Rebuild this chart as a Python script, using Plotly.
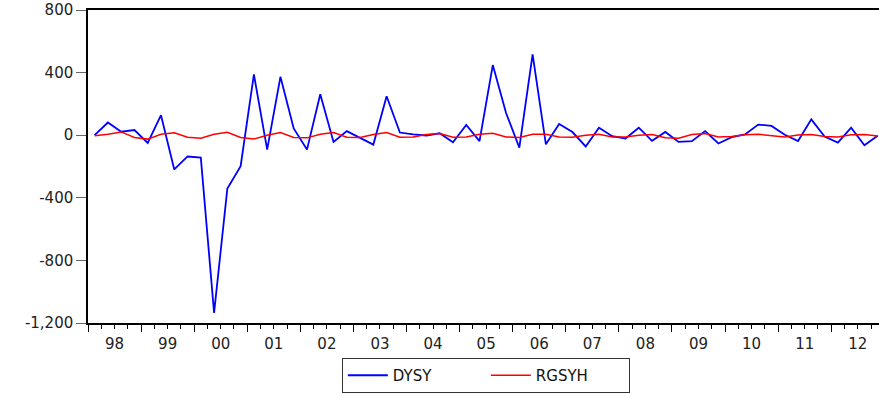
import plotly.graph_objects as go

# Quarterly series 1998Q1 .. 2012Q4
start_year = 1998
n_quarters = 60

dysy = [0, 81, 22, 33, -49, 128, -219, -136, -143, -1135,
        -341, -198, 388, -92, 373, 43, -92, 262, -43, 26,
        -17, -60, 249, 17, 5, -2, 12, -45, 65, -38,
        448, 142, -79, 517, -58, 71, 20, -72, 48, -6,
        -21, 48, -36, 21, -43, -38, 26, -53, -13, 5,
        68, 59, 3, -37, 101, -9, -47, 48, -64, -4]

rgsyh = [-4, 6, 21, -15, -25, 6, 15, -13, -19, 6,
         19, -15, -24, 0, 17, -14, -17, 6, 17, -13,
         -15, 4, 17, -13, -11, 4, 11, -13, -11, 6,
         12, -11, -15, 6, 6, -11, -13, 0, 6, -11,
         -12, -1, 5, -16, -19, 5, 11, -11, -8, 3,
         6, -4, -11, 1, 5, -8, -11, 3, 5, -5]

year_labels = ["98", "99", "00", "01", "02", "03", "04", "05",
               "06", "07", "08", "09", "10", "11", "12"]

y_tickvals = [800, 400, 0, -400, -800, -1200]
y_ticktext = ["800", "400", "0", "-400", "-800", "-1,200"]

# quarter midpoints in fractional years
x = [start_year + (i + 0.5) / 4 for i in range(n_quarters)]
year_bounds = [start_year + k for k in range(len(year_labels) + 1)]
year_centers = [start_year + k + 0.5 for k in range(len(year_labels))]

FONT = "DejaVu Sans"

fig = go.Figure()
fig.add_trace(go.Scatter(x=x, y=dysy, mode="lines", name="DYSY",
                         line=dict(color="#0000FF", width=1.8)))
fig.add_trace(go.Scatter(x=x, y=rgsyh, mode="lines", name="RGSYH",
                         line=dict(color="#FF0000", width=1.5)))
# invisible trace to carry the year labels axis
fig.add_trace(go.Scatter(x=[year_centers[0]], y=[0], xaxis="x2",
                         mode="markers", marker=dict(opacity=0),
                         showlegend=False, hoverinfo="skip"))

xr = [1998, 2012.9]

fig.update_layout(
    width=879, height=394,
    margin=dict(l=88, r=0, t=10, b=71, autoexpand=False),
    paper_bgcolor="white", plot_bgcolor="white",
    font=dict(family=FONT, size=15, color="#222222"),
    showlegend=True,
    legend=dict(orientation="h", x=0.503, xanchor="center",
                y=-0.2236, yanchor="bottom",
                bordercolor="#333333", borderwidth=1,
                font=dict(family=FONT, size=15, color="#111111"),
                entrywidth=88, entrywidthmode="pixels",
                itemwidth=40, tracegroupgap=0),
    xaxis=dict(range=xr, showgrid=False, zeroline=False, automargin=False,
               showline=True, linecolor="black", linewidth=1.5, mirror=True,
               tickmode="array", tickvals=year_bounds,
               ticktext=[""] * len(year_bounds),
               ticks="outside", ticklen=7, tickcolor="black", tickwidth=1,
               minor=dict(dtick=0.25, tick0=1998, ticks="outside",
                          ticklen=4, tickcolor="black", tickwidth=1,
                          showgrid=False)),
    xaxis2=dict(range=xr, overlaying="x", side="bottom", anchor="y",
                showgrid=False, zeroline=False, showline=False, automargin=False,
                tickmode="array", tickvals=year_centers, ticktext=year_labels,
                ticks="outside", ticklen=7, tickcolor="rgba(0,0,0,0)",
                tickfont=dict(family=FONT, size=15, color="#222222")),
    yaxis=dict(range=[-1200, 800], showgrid=False, zeroline=False, automargin=False,
               showline=True, linecolor="black", linewidth=1.5,
               tickmode="array", tickvals=y_tickvals, ticktext=y_ticktext,
               ticks="outside", ticklen=10, tickcolor="#666666",
               tickfont=dict(family=FONT, size=15, color="#222222")),
)

fig.write_html("out.html",
               config={"displayModeBar": False},
               post_script="document.body.style.margin='0';document.body.style.overflow='hidden';")
